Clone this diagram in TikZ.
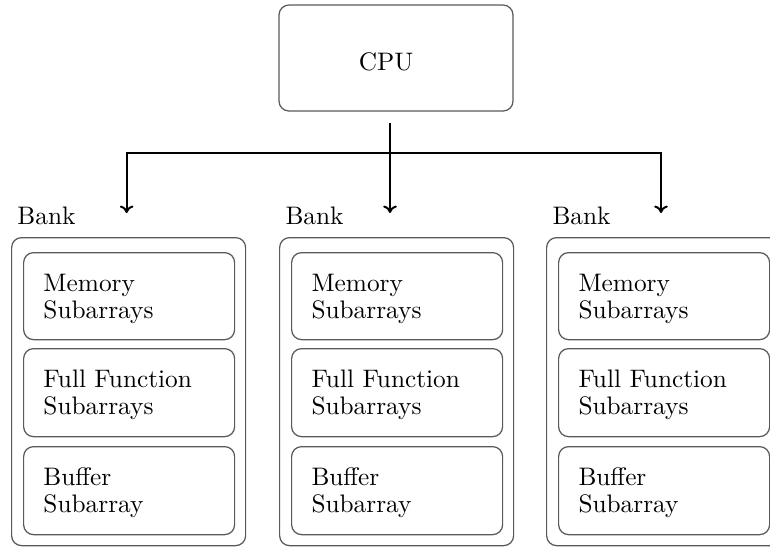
\documentclass[tikz,border=0pt]{standalone}
\usetikzlibrary{arrows.meta,calc}
\begin{document}
\begin{tikzpicture}[x=0.403pt,y=-0.403pt,
  frame/.style={draw=black!65,line width=0.5pt,rounded corners=4pt,inner sep=0pt},
  label/.style={inner sep=0pt,anchor=base west,align=left,
    font={\fontsize{10.2}{10.8}\selectfont}},
  wire/.style={line width=0.8pt},
  feed/.style={line width=0.8pt,-{To[length=3pt,width=5.5pt]}}]
\useasboundingbox (0,0) rectangle (770,546);
\clip (0,0) rectangle (770,546);

% processor
\node[frame,minimum width=234*0.403pt,minimum height=106*0.403pt] (cpu) at (396,58) {};
\node[inner sep=0pt,anchor=base,font={\fontsize{10.2}{10.8}\selectfont}] (cputext) at (386,70) {CPU};

% banks: outer frame, title and three subarray boxes each
% (two-line labels are placed by the baseline of their last line)
\foreach \i/\x in {1/11,2/279,3/546}{
  \node[frame,anchor=north west,minimum width=234*0.403pt,minimum height=308*0.403pt]
    (bank\i) at (\x,237) {};
  \node[label] (banktitle\i) at (\x+6,224) {Bank};
  \node[frame,anchor=north west,minimum width=211*0.403pt,minimum height=87*0.403pt]
    (mem\i) at (\x+12,252) {};
  \node[label] (memtext\i) at (\x+32,318) {Memory\\Subarrays};
  \node[frame,anchor=north west,minimum width=211*0.403pt,minimum height=88*0.403pt]
    (full\i) at (\x+12,348) {};
  \node[label] (fulltext\i) at (\x+32,414) {Full Function\\Subarrays};
  \node[frame,anchor=north west,minimum width=211*0.403pt,minimum height=88*0.403pt]
    (buf\i) at (\x+12,446) {};
  \node[label] (buftext\i) at (\x+32,512) {Buffer\\Subarray};
}

% distribution lines from the processor
\coordinate (src) at ($(cpu.south)+(-6,11)$);
\coordinate (split) at (390,153);
\coordinate (in1) at ($(bank1.north)+(-2,-24)$);
\coordinate (in2) at (390,213);
\coordinate (in3) at (661,213);
\draw[wire] (src) -- (split);
\draw[feed] (split) -- (in2);
\draw[feed] (split) -| (in1);
\draw[feed] (split) -| (in3);
\end{tikzpicture}
\end{document}
